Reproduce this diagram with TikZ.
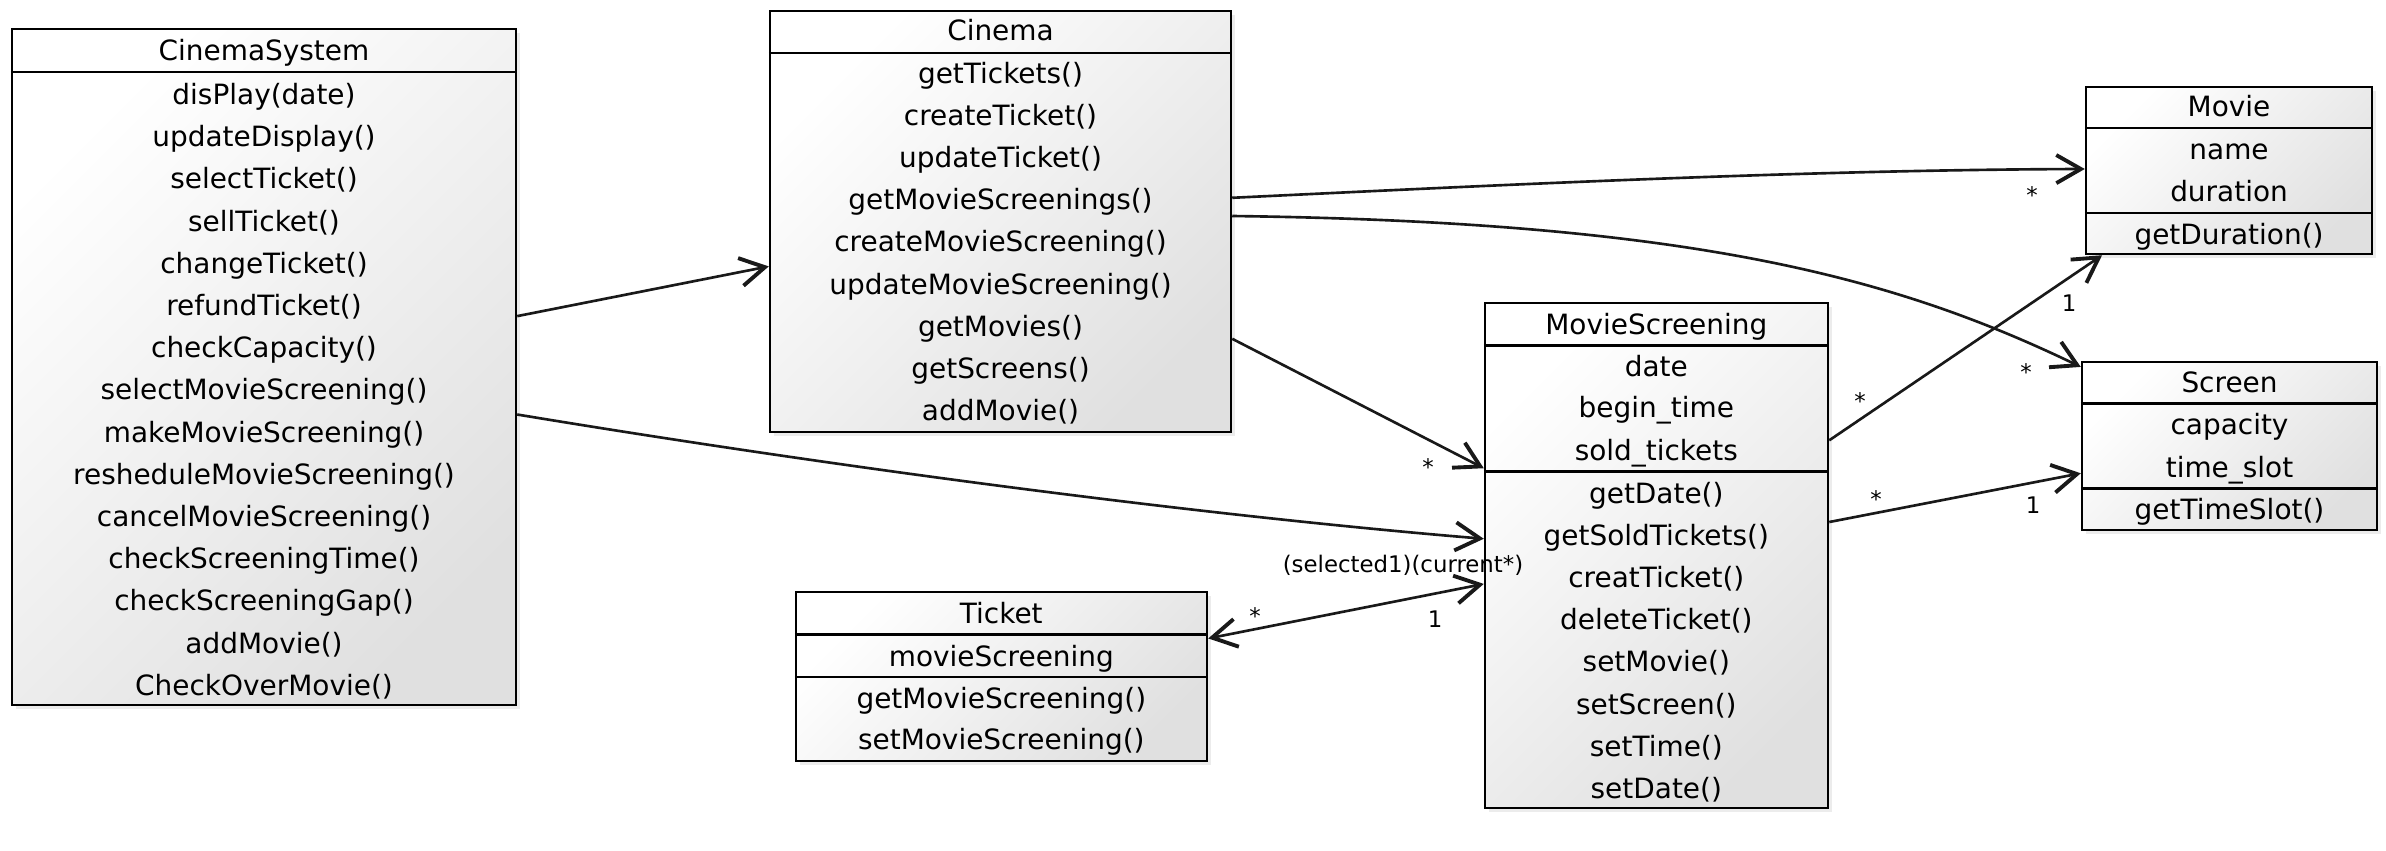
\documentclass[tikz,border=0pt]{standalone}
\usepackage{fontspec}
\setmainfont{DejaVu Sans}
\usetikzlibrary{arrows.meta,calc,fit,shadows}
\tikzset{
  >={Straight Barb[length=14pt,width=16pt,line width=2.2pt]},
  every node/.style={font=\fontsize{15.9}{19}\selectfont},
  cls/.style={draw=black,line width=1.4pt,top color=white,bottom color=black!12,shading angle=45,inner sep=0pt,
    drop shadow={opacity=0.15,shadow xshift=2.5pt,shadow yshift=-2.5pt}},
  row/.style={inner sep=0pt,text height=15pt,text depth=3.5pt},
  divider/.style={line width=1.4pt},
  assoc/.style={->,line width=1.5pt,draw=black!90},
  mult/.style={font=\fontsize{13}{15}\selectfont,inner sep=0pt,anchor=base},
}

\begin{document}
\begin{tikzpicture}[x=0.02cm,y=-0.02cm]
  \useasboundingbox (0,0) rectangle (2386,850);
  % classes
  \node[cls,fit={(12,29)(516,705)}] (sys) {};
  \node[cls,fit={(770,11)(1231,432)}] (cin) {};
  \node[cls,fit={(2086,87)(2372,254)}] (mov) {};
  \node[cls,fit={(2082,362)(2377,530)}] (scr) {};
  \node[cls,fit={(1485,303)(1828,808)}] (ms) {};
  \node[cls,fit={(796,592)(1207,761)}] (tic) {};
  % CinemaSystem
  \node[row] (sys-t) at (264,50.5) {CinemaSystem};
  \draw[divider] (sys.west |- 0,72) -- (sys.east |- 0,72);
  \foreach \m [count=\i] in {disPlay(date),updateDisplay(),selectTicket(),sellTicket(),changeTicket(),
      refundTicket(),checkCapacity(),selectMovieScreening(),makeMovieScreening(),
      resheduleMovieScreening(),cancelMovieScreening(),checkScreeningTime(),
      checkScreeningGap(),addMovie(),CheckOverMovie()}
    \node[row] (sys-\i) at (264,{94.3+42.2*(\i-1)}) {\m};
  % Cinema
  \node[row] (cin-t) at (1000.5,30.4) {Cinema};
  \draw[divider] (cin.west |- 0,53) -- (cin.east |- 0,53);
  \foreach \m [count=\i] in {getTickets(),createTicket(),updateTicket(),getMovieScreenings(),
      createMovieScreening(),updateMovieScreening(),getMovies(),getScreens(),addMovie()}
    \node[row] (cin-\i) at (1000.5,{73+42.2*(\i-1)}) {\m};
  % Movie
  \node[row] (mov-t) at (2229,106.5) {Movie};
  \draw[divider] (mov.west |- 0,127.8) -- (mov.east |- 0,127.8);
  \node[row] (mov-a1) at (2229,149.1) {name};
  \node[row] (mov-a2) at (2229,191.7) {duration};
  \draw[divider] (mov.west |- 0,213) -- (mov.east |- 0,213);
  \node[row] (mov-m1) at (2229,234.3) {getDuration()};
  % Screen
  \node[row] (scr-t) at (2229.5,382) {Screen};
  \draw[divider] (scr.west |- 0,403.3) -- (scr.east |- 0,403.3);
  \node[row] (scr-a1) at (2229.5,424.6) {capacity};
  \node[row] (scr-a2) at (2229.5,467.2) {time\_slot};
  \draw[divider] (scr.west |- 0,488.5) -- (scr.east |- 0,488.5);
  \node[row] (scr-m1) at (2229.5,509.8) {getTimeSlot()};
  % MovieScreening
  \node[row] (ms-t) at (1656.3,324) {MovieScreening};
  \draw[divider] (ms.west |- 0,345.4) -- (ms.east |- 0,345.4);
  \node[row] (ms-a1) at (1656.3,366.7) {date};
  \node[row] (ms-a2) at (1656.3,407.8) {begin\_time};
  \node[row] (ms-a3) at (1656.3,450.4) {sold\_tickets};
  \draw[divider] (ms.west |- 0,471.7) -- (ms.east |- 0,471.7);
  \foreach \m [count=\i] in {getDate(),getSoldTickets(),creatTicket(),deleteTicket(),
      setMovie(),setScreen(),setTime(),setDate()}
    \node[row] (ms-\i) at (1656.3,{493+42.2*(\i-1)}) {\m};
  % Ticket
  \node[row] (tic-t) at (1001.3,613.2) {Ticket};
  \draw[divider] (tic.west |- 0,634.5) -- (tic.east |- 0,634.5);
  \node[row] (tic-a1) at (1001.3,655.9) {movieScreening};
  \draw[divider] (tic.west |- 0,677.2) -- (tic.east |- 0,677.2);
  \node[row] (tic-m1) at (1001.3,698.5) {getMovieScreening()};
  \node[row] (tic-m2) at (1001.3,739.5) {setMovieScreening()};
  % associations
  \draw[assoc] ($(sys.north east)!0.425!(sys.south east)$) -- ($(cin.north west)!0.606!(cin.south west)$);
  \draw[assoc] ($(cin.north east)!0.444!(cin.south east)$) .. controls (1500,185) and (1800,170) .. ($(mov.north west)!0.491!(mov.south west)$);
  \draw[assoc] ($(cin.north east)!0.487!(cin.south east)$) .. controls (1700,222) and (1900,280) .. ($(scr.north west)!0.036!(scr.south west)$);
  \draw[assoc] ($(cin.north east)!0.777!(cin.south east)$) -- ($(ms.north west)!0.328!(ms.south west)$);
  \draw[assoc] ($(sys.north east)!0.570!(sys.south east)$) .. controls (816,464) and (1185,514) .. ($(ms.north west)!0.467!(ms.south west)$);
  \draw[assoc,<->] ($(tic.north east)!0.278!(tic.south east)$) -- ($(ms.north west)!0.556!(ms.south west)$);
  \draw[assoc] ($(ms.north east)!0.273!(ms.south east)$) -- ($(mov.south west)!0.06!(mov.south east)$);
  \draw[assoc] ($(ms.north east)!0.434!(ms.south east)$) -- ($(scr.north west)!0.66!(scr.south west)$);
  % multiplicities
  \node[mult] (cin-mov) at (2032,203) {*};
  \node[mult] (cin-scr) at (2026,380.5) {*};
  \node[mult] (cin-ms) at (1428,475) {*};
  \node[mult] (tic-ms) at (1255,624) {*};
  \node[mult] (ms-tic) at (1435,627.6) {1};
  \node[mult] (ms-mov) at (1860,409.5) {*};
  \node[mult] (mov-ms) at (2069,311.3) {1};
  \node[mult] (ms-scr) at (1876,507.5) {*};
  \node[mult] (scr-ms) at (2033,513.8) {1};
  \node[mult] (sel) at (1403,572) {(selected1)(current*)};
\end{tikzpicture}
\end{document}
